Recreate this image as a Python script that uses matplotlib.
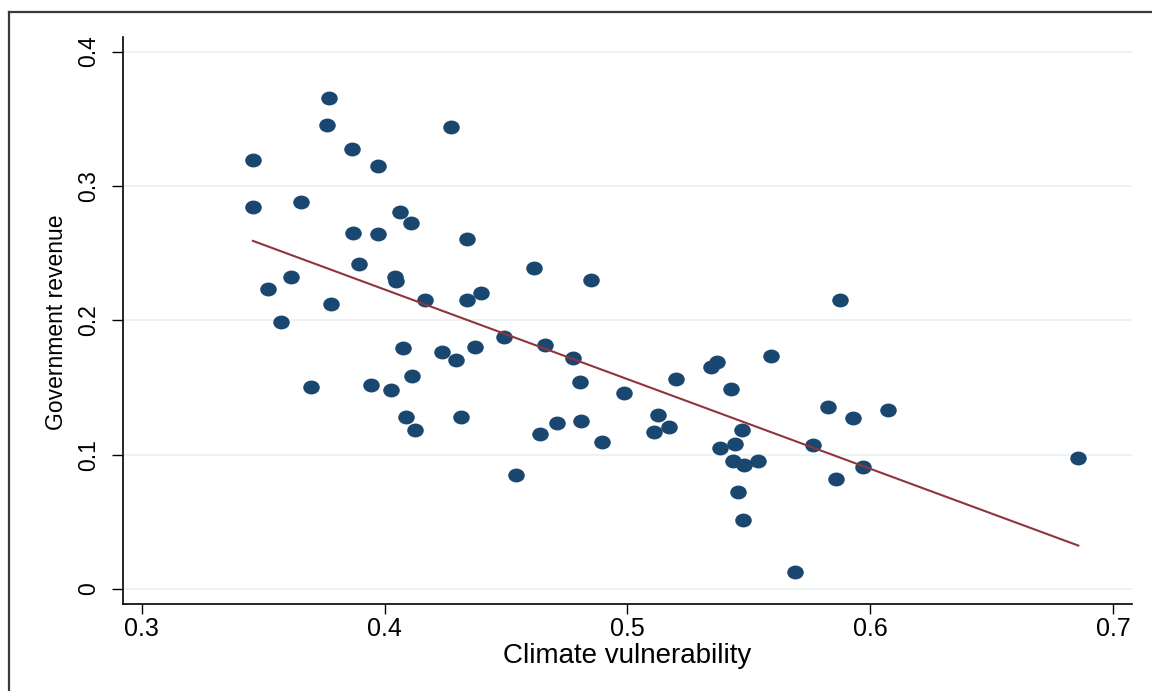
import numpy as np
import matplotlib
matplotlib.use("Agg")
import matplotlib.pyplot as plt
from matplotlib.path import Path
from matplotlib.transforms import Affine2D
from matplotlib.lines import Line2D

# Data
climate_vulnerability = [
    0.3458, 0.3459, 0.3521, 0.3572, 0.3615, 0.3656, 0.3696, 0.3770, 0.3763, 0.3779,
    0.3865, 0.3869, 0.3896, 0.3943, 0.3974, 0.3974, 0.4028, 0.4043, 0.4046, 0.4063,
    0.4075, 0.4088, 0.4107, 0.4112, 0.4126, 0.4168, 0.4272, 0.4236, 0.4294, 0.4313,
    0.4338, 0.4338, 0.4372, 0.4398, 0.4492, 0.4541, 0.4614, 0.4640, 0.4660, 0.4710,
    0.4777, 0.4803, 0.4810, 0.4851, 0.4894, 0.4986, 0.5109, 0.5127, 0.5170, 0.5200,
    0.5343, 0.5367, 0.5380, 0.5425, 0.5445, 0.5437, 0.5456, 0.5473, 0.5481, 0.5476,
    0.5538, 0.5591, 0.5691, 0.5765, 0.5825, 0.5861, 0.5875, 0.5931, 0.5970, 0.6075,
    0.6857,
]
government_revenue = [
    0.3189, 0.2844, 0.2236, 0.1986, 0.2325, 0.2882, 0.1506, 0.3654, 0.3455, 0.2124,
    0.3276, 0.2646, 0.2422, 0.1517, 0.3150, 0.2641, 0.1484, 0.2325, 0.2291, 0.2802,
    0.1797, 0.1283, 0.2725, 0.1588, 0.1186, 0.2147, 0.3435, 0.1767, 0.1707, 0.1278,
    0.2604, 0.2147, 0.1804, 0.2206, 0.1874, 0.0851, 0.2392, 0.1156, 0.1819, 0.1238,
    0.1718, 0.1539, 0.1249, 0.2303, 0.1097, 0.1462, 0.1169, 0.1298, 0.1204, 0.1561,
    0.1651, 0.1692, 0.1048, 0.1491, 0.1077, 0.0955, 0.0725, 0.1184, 0.0923, 0.0514,
    0.0951, 0.1735, 0.0127, 0.1070, 0.1353, 0.0821, 0.2147, 0.1276, 0.0908, 0.1331,
    0.0975,
]
x_ticks = [0.3, 0.4, 0.5, 0.6, 0.7]
x_tick_labels = ["0.3", "0.4", "0.5", "0.6", "0.7"]
y_ticks = [0.0, 0.1, 0.2, 0.3, 0.4]
y_tick_labels = ["0", "0.1", "0.2", "0.3", "0.4"]
x_title = "Climate vulnerability"
y_title = "Government revenue"

MARKER_COLOR = "#1a476f"
LINE_COLOR = "#90353b"
GRID_COLOR = "#eaf2f3"

plt.rcParams["font.family"] = ["Liberation Sans", "DejaVu Sans"]

W, H = 1152, 691
fig = plt.figure(figsize=(W / 100, H / 100), dpi=100)
fig.patch.set_facecolor("white")

ax_left, ax_right, ax_bottom, ax_top = 123, 1132, 604, 37
ax = fig.add_axes([ax_left / W, (H - ax_bottom) / H,
                   (ax_right - ax_left) / W, (ax_bottom - ax_top) / H])

x = np.array(climate_vulnerability)
y = np.array(government_revenue)

# slightly wide ellipse marker (reference is horizontally stretched)
ell = Path.unit_circle().transformed(Affine2D().scale(1.0, 0.84))
ax.scatter(x, y, s=11.9 ** 2, marker=ell, color=MARKER_COLOR, linewidths=0, zorder=3)

# Linear fit
slope, intercept = np.polyfit(x, y, 1)
xf = np.array([x.min(), x.max()])
ax.plot(xf, intercept + slope * xf, color=LINE_COLOR, lw=1.5, zorder=4)

ax.set_xlim(0.2923, 0.7078)
ax.set_ylim(-0.0112, 0.4108)

for t in y_ticks:
    ax.axhline(t, color=GRID_COLOR, lw=1.3, zorder=1)

ax.set_xticks(x_ticks)
ax.set_xticklabels(x_tick_labels, fontsize=18)
ax.set_yticks(y_ticks)
ax.set_yticklabels(y_tick_labels, fontsize=16.5, rotation=90, va="center")

ax.tick_params(axis="x", length=7.2, width=1.0, pad=2, colors="black")
ax.tick_params(axis="y", length=7.7, width=1.0, pad=9, colors="black")

for s in ["top", "right"]:
    ax.spines[s].set_visible(False)
for s in ["left", "bottom"]:
    ax.spines[s].set_linewidth(1.2)
    ax.spines[s].set_color("black")

ax.set_xlabel(x_title, fontsize=20)
ax.set_ylabel(y_title, fontsize=16.5)
ax.xaxis.set_label_coords(0.5, -0.0685)
ax.yaxis.set_label_coords(-0.0545, 0.497)

# outer frame (partially cropped in the reference)
fx = 9 / W
fy = 1 - 11.5 / H
fig.add_artist(Line2D([fx, fx], [0, fy], transform=fig.transFigure, color="#3a3a3a", lw=1.6))
fig.add_artist(Line2D([fx, 1], [fy, fy], transform=fig.transFigure, color="#3a3a3a", lw=1.6))

fig.savefig("out.png", dpi=100, facecolor="white")
